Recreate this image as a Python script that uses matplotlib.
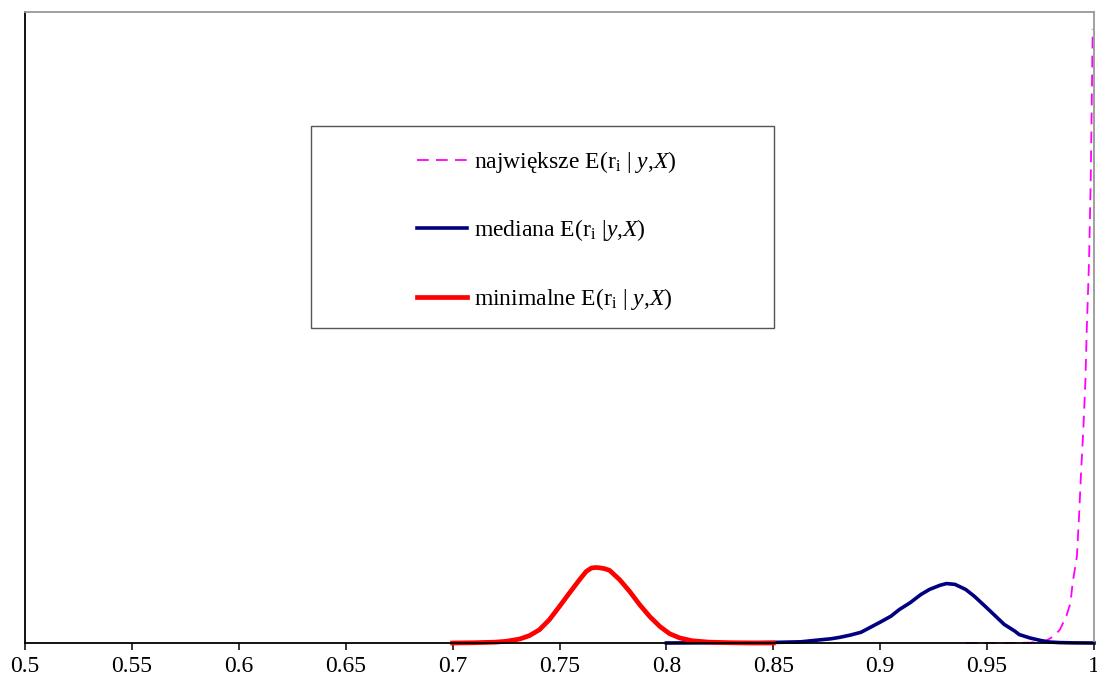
import matplotlib
matplotlib.use("Agg")
import matplotlib.pyplot as plt
from matplotlib.patches import Rectangle

plt.rcParams['font.family'] = ['Liberation Serif', 'DejaVu Serif']
plt.rcParams['mathtext.fontset'] = 'custom'
plt.rcParams['mathtext.rm'] = 'Liberation Serif'
plt.rcParams['mathtext.it'] = 'Liberation Serif:italic'

# gęstości a posteriori E(r_i | y,X)
x_max = [0.940, 0.960, 0.970, 0.977, 0.981, 0.984, 0.987, 0.989, 0.990,
         0.992, 0.993, 0.994, 0.995, 0.996, 0.9966, 0.9977, 0.9985, 0.9994]
y_max = [0.0, 0.0, 0.1, 0.57, 2.3, 4.7, 9.4, 14.2, 21.3,
         30.7, 44.9, 61.4, 75.6, 93.4, 111, 136, 166, 218]

x_med = [0.800, 0.825, 0.844, 0.853, 0.863, 0.869, 0.877, 0.881, 0.886,
         0.891, 0.895, 0.900, 0.905, 0.909, 0.914, 0.919, 0.923, 0.928,
         0.931, 0.935, 0.940, 0.944, 0.949, 0.954, 0.958, 0.963, 0.965,
         0.970, 0.975, 0.979, 0.984, 0.991, 1.000]
y_med = [0.0, 0.07, 0.14, 0.25, 0.43, 0.9, 1.5, 2.0, 2.8,
         3.8, 5.4, 7.4, 9.5, 11.9, 14.3, 17.2, 19.0, 20.5,
         21.1, 20.8, 19.0, 16.6, 13.1, 9.5, 6.6, 4.2, 3.0,
         1.8, 0.9, 0.35, 0.14, 0.04, 0.0]

x_min = [0.700, 0.710, 0.720, 0.725, 0.7313, 0.7359, 0.7406, 0.7453, 0.750,
         0.7547, 0.7594, 0.7625, 0.7649, 0.7668, 0.7687, 0.7710, 0.7734,
         0.7781, 0.7828, 0.7875, 0.7922, 0.7969, 0.8015, 0.8062, 0.812,
         0.820, 0.830, 0.840, 0.850]
y_min = [0.0, 0.1, 0.3, 0.6, 1.4, 2.6, 4.7, 8.3, 13.0,
         17.8, 22.5, 25.4, 26.6, 26.8, 26.7, 26.4, 25.8,
         22.5, 18.3, 13.6, 9.4, 5.9, 3.3, 1.8, 0.8,
         0.3, 0.1, 0.0, 0.0]

labels = [r'największe E(r$_{\mathrm{i}}$ | $y$,$X$)',
          r'mediana E(r$_{\mathrm{i}}$ |$y$,$X$)',
          r'minimalne E(r$_{\mathrm{i}}$ | $y$,$X$)']

fig = plt.figure(figsize=(10.97, 6.86), dpi=100)
ax = fig.add_axes([25 / 1097, 43 / 686, 1069 / 1097, 631 / 686])

ax.plot(x_max, y_max, color='#FF00FF', lw=1.3, dashes=(6.5, 4),
        label=labels[0], clip_on=False)
ax.plot(x_med, y_med, color='#000080', lw=2.6, label=labels[1],
        solid_joinstyle='round', clip_on=False)
ax.plot(x_min, y_min, color='#FF0000', lw=3.4, label=labels[2],
        solid_joinstyle='round', clip_on=False)

ax.set_xlim(0.5, 1.0)
ax.set_ylim(0, 224)
ax.set_xticks([0.5, 0.55, 0.6, 0.65, 0.7, 0.75, 0.8, 0.85, 0.9, 0.95, 1.0])
ax.set_xticklabels(['0.5', '0.55', '0.6', '0.65', '0.7', '0.75', '0.8',
                    '0.85', '0.9', '0.95', '1'])
ax.set_yticks([])
ax.tick_params(axis='x', direction='out', length=5, width=1.1,
               labelsize=17, pad=4)

ax.spines['left'].set_color('black')
ax.spines['bottom'].set_color('black')
ax.spines['top'].set_color('#999999')
ax.spines['right'].set_color('#999999')
for s in ax.spines.values():
    s.set_linewidth(1.3)

# ramka legendy
ax.add_patch(Rectangle((0.2675, 0.4992), 0.4332, 0.3201, transform=ax.transAxes,
                       fill=False, edgecolor='#555555', lw=1.0))
ax.legend(loc='center left', bbox_to_anchor=(0.3667, 0.654), frameon=False,
          fontsize=17, borderpad=0, borderaxespad=0, handlelength=2.1,
          handletextpad=0.3, labelspacing=1.8)

fig.savefig('out.png', dpi=100)
